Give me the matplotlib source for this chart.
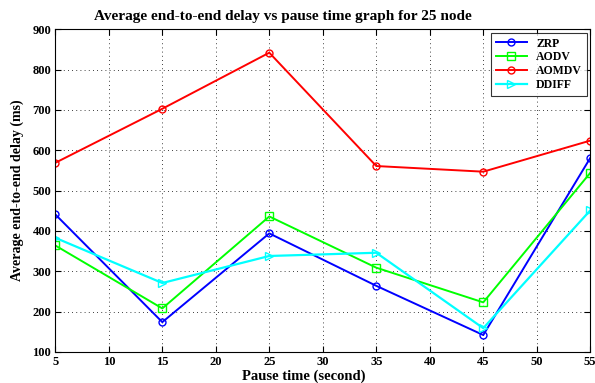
import numpy as np
import matplotlib.pyplot as plt

# pause time (s) and end-to-end delay (ms) for each protocol
pause_time = [5, 15, 25, 35, 45, 55]
zrp = [441, 174, 394, 264, 142, 581]
aodv = [364, 208, 436, 309, 223, 544]
aomdv = [569, 703, 842, 561, 547, 624]
ddiff = [383, 271, 338, 346, 159, 451]

plt.rcParams['font.family'] = ['Liberation Serif', 'DejaVu Serif']
plt.rcParams['font.weight'] = 'bold'

fig = plt.figure(figsize=(5.95, 3.83), dpi=100)
ax = fig.add_axes([0.093, 0.081, 0.899, 0.8425])

ax.plot(pause_time, zrp, color='#0000ff', marker='o', mfc='none', ms=5, lw=1.4, label='ZRP')
ax.plot(pause_time, aodv, color='#00ff00', marker='s', mfc='none', ms=6, lw=1.4, label='AODV')
ax.plot(pause_time, aomdv, color='#ff0000', marker='o', mfc='none', ms=5, lw=1.4, label='AOMDV')
ax.plot(pause_time, ddiff, color='#00ffff', marker='>', mfc='none', ms=6, lw=1.6, label='DDIFF')

ax.set_xlim(5, 55)
ax.set_ylim(100, 900)
ax.set_xticks(np.arange(5, 56, 5))
ax.set_yticks(np.arange(100, 901, 100))
ax.tick_params(direction='in', top=True, right=True, labelsize=9, length=4, pad=3)
ax.grid(True, linestyle=(0, (1, 4)), color='black', lw=0.6)

fig.text(0.476, 0.958, 'Average end-to-end delay vs pause time graph for 25 node',
         ha='center', va='center', fontsize=11, fontweight='bold')
ax.set_xlabel('Pause time (second)', fontsize=10.5, fontweight='bold', labelpad=2)
ax.xaxis.set_label_coords(0.465, -0.055)
ax.set_ylabel('Average end-to-end delay (ms)', fontsize=10, fontweight='bold', labelpad=6)

leg = ax.legend(loc='upper right', fontsize=8.5, frameon=True, fancybox=False,
                edgecolor='black', borderaxespad=0.3, handlelength=2.6,
                labelspacing=0.15, borderpad=0.4)
leg.get_frame().set_linewidth(0.8)

fig.savefig('out.png', dpi=100)
